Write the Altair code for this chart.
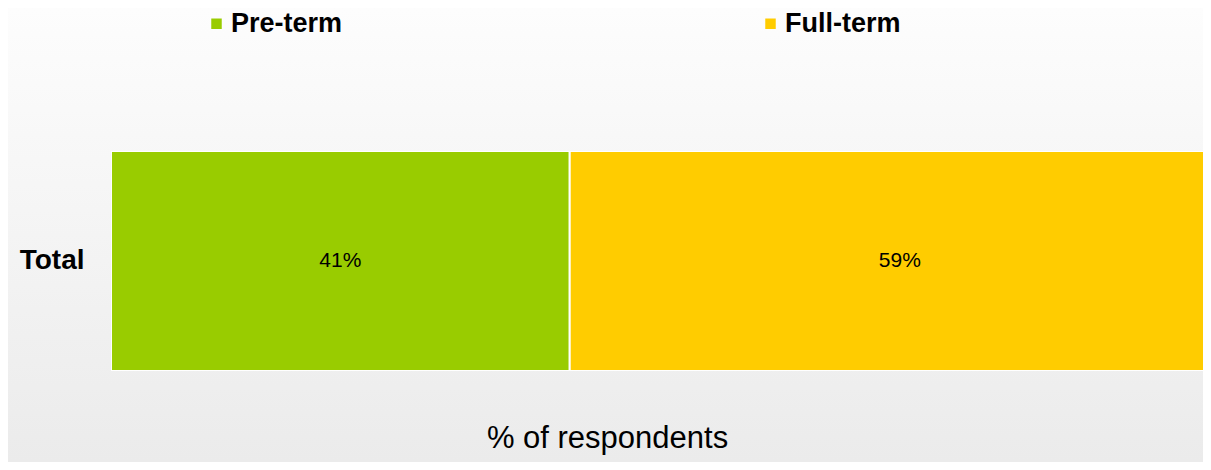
import altair as alt
import pandas as pd

categories = ["Total"]
series = ["Pre-term", "Full-term"]
values = [41, 59]
colors = ["#99cc00", "#ffcc00"]

FONT = "Liberation Sans, Arial, sans-serif"

rows = []
for i, (s, v) in enumerate(zip(series, values)):
    rows.append({"group": categories[0], "series": s, "value": v, "order": i})
df = pd.DataFrame(rows)

W, H = 1092, 220
PAD_L, PAD_T, PAD_B = 103, 143, 91

gradient = alt.LinearGradient(
    gradient="linear",
    stops=[alt.GradientStop(offset=0, color="#fdfdfd"),
           alt.GradientStop(offset=1, color="#ebebeb")],
    x1=0, x2=0, y1=0, y2=1,
)

bg = alt.Chart(alt.Data(values=[{"a": 1}])).mark_rect(fill=gradient, clip=False).encode(
    x=alt.value(-PAD_L), x2=alt.value(W), y=alt.value(-PAD_T), y2=alt.value(H + PAD_B)
)

xscale = alt.Scale(domain=[0, 97.6], nice=False, zero=True)
yscale = alt.Scale(paddingInner=0, paddingOuter=0)

bars = alt.Chart(df).mark_bar(stroke="white", strokeWidth=2, clip=True).encode(
    x=alt.X("value:Q", stack="zero", scale=xscale,
            axis=alt.Axis(labels=False, ticks=False, domain=False, grid=False,
                          title="% of respondents", titleFontSize=31,
                          titleFontWeight="normal", titleFont=FONT, titleColor="#000000",
                          titleBaseline="alphabetic", titlePadding=76,
                          titleX=496, titleAlign="center", zindex=1)),
    y=alt.Y("group:N", scale=yscale,
            axis=alt.Axis(title=None, ticks=False, domain=False, labelFontSize=28,
                          labelFontWeight="bold", labelFont=FONT, labelColor="#000000",
                          labelPadding=27, zindex=1)),
    color=alt.Color("series:N", scale=alt.Scale(domain=series, range=colors),
                    legend=alt.Legend(title=None, orient="none", direction="horizontal",
                                      columns=2, legendX=92, legendY=-141,
                                      symbolType="square", symbolSize=110,
                                      symbolStrokeWidth=0, labelFontSize=27,
                                      labelFontWeight="bold", labelFont=FONT,
                                      labelColor="#000000", labelOffset=1,
                                      columnPadding=414, labelLimit=300, zindex=1)),
    order=alt.Order("order:Q"),
)

labels = alt.Chart(df).transform_stack(
    stack="value", groupby=["group"], as_=["v0", "v1"],
    sort=[alt.SortField("order", order="ascending")]
).transform_calculate(
    mid="(datum.v0 + datum.v1) / 2",
    label="datum.value + '%'"
).mark_text(fontSize=21, font=FONT, color="#000000", baseline="middle", align="center").encode(
    x=alt.X("mid:Q", scale=xscale),
    y=alt.Y("group:N", scale=yscale),
    text="label:N",
)

chart = alt.layer(bg, bars, labels).properties(
    width=W, height=H,
    autosize=alt.AutoSizeParams(type="none"),
    padding={"left": PAD_L, "top": PAD_T, "right": 0, "bottom": PAD_B},
    background="#f6f6f6",
).configure_view(strokeWidth=0)

chart.save("out.html", embed_options={"renderer": "svg", "actions": False})
